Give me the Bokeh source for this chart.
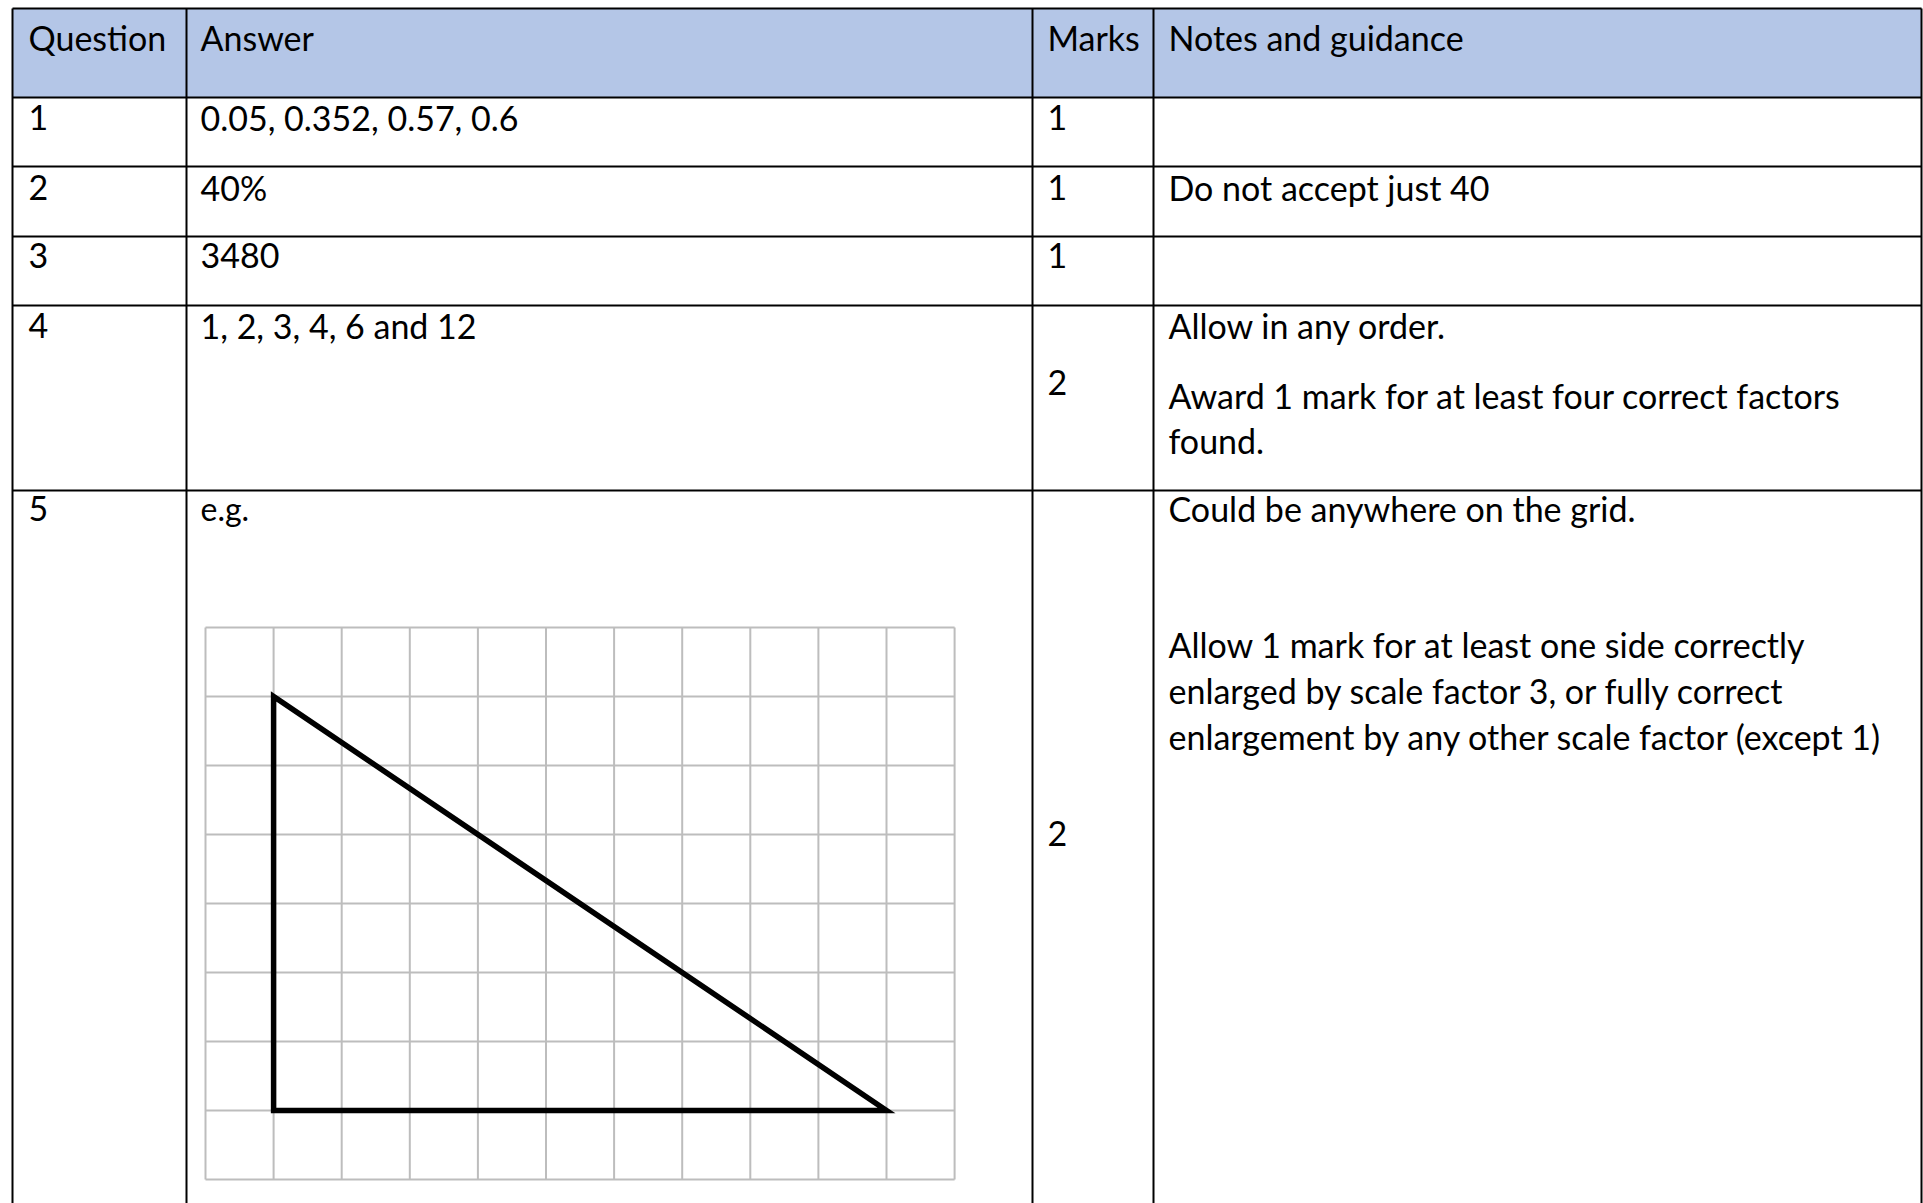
from bokeh.plotting import figure
from bokeh.models import Range1d
from bokeh.core.properties import value
from bokeh.embed import file_html
from bokeh.resources import INLINE

# ---------------- data ----------------
headers = ["Question", "Answer", "Marks", "Notes and guidance"]
questions = ["1", "2", "3", "4", "5"]
answers = ["0.05, 0.352, 0.57, 0.6", "40%", "3480", "1, 2, 3, 4, 6 and 12", "e.g."]
marks = ["1", "1", "1", "2", "2"]
notes = [
    [],
    ["Do not accept just 40"],
    [],
    ["Allow in any order.",
     "Award 1 mark for at least four correct factors",
     "found."],
    ["Could be anywhere on the grid.",
     "Allow 1 mark for at least one side correctly",
     "enlarged by scale factor 3, or fully correct",
     "enlargement by any other scale factor (except 1)"],
]
grid_cols = 11
grid_rows = 8
tri_col = [1, 1, 10]   # triangle vertices, in grid squares from the left
tri_row = [1, 7, 7]    # triangle vertices, in grid squares from the top

# ---------------- layout (page pixels, y downward) ----------------
W, H = 1923, 1203
col_edges = [12, 186, 1032, 1153, 1921]
row_edges = [8, 97, 166, 236, 305, 490]
text_x = [28, 200, 1047, 1168]
SHIFT = -12
header_base = 49 + SHIFT
row_base = [b + SHIFT for b in [128.5, 198.5, 267, 337, 520]]
marks_base = [b + SHIFT for b in [128.5, 198.5, 267, 394, 845]]
note_dy = [[], [0], [], [0, 70, 115], [0, 136, 181.7, 228]]
grid_x0, grid_y0, cell_w, cell_h = 205, 627, 68.1, 69.0

FONT = value("Lato")
FS = "34px"
HEADER_FILL = "#B4C6E7"

p = figure(width=W, height=H, output_backend="svg", toolbar_location=None,
           x_axis_type=None, y_axis_type=None,
           x_range=Range1d(0, W), y_range=Range1d(H, 0),
           min_border=0, min_border_left=0, min_border_right=0,
           min_border_top=0, min_border_bottom=0)
p.outline_line_color = None
p.grid.visible = False
p.background_fill_color = "white"
p.border_fill_color = "white"

# header band
p.quad(left=[col_edges[0]], right=[col_edges[-1]], top=[row_edges[0]], bottom=[row_edges[1]],
       fill_color=HEADER_FILL, line_color=None)

# ---- grid in question 5 ----
gx = [grid_x0 + i * cell_w for i in range(grid_cols + 1)]
gy = [grid_y0 + j * cell_h for j in range(grid_rows + 1)]
p.segment(x0=gx, y0=[gy[0]] * len(gx), x1=gx, y1=[gy[-1]] * len(gx),
          line_color="#BDBDBD", line_width=2)
p.segment(x0=[gx[0]] * len(gy), y0=gy, x1=[gx[-1]] * len(gy), y1=gy,
          line_color="#BDBDBD", line_width=2)
tx = [grid_x0 + c * cell_w for c in tri_col]
ty = [grid_y0 + r * cell_h for r in tri_row]
p.patch(x=tx, y=ty, fill_color=None, line_color="black", line_width=5.5, line_join="miter")

# ---- table rules ----
p.segment(x0=[col_edges[0]] * len(row_edges), y0=row_edges,
          x1=[col_edges[-1]] * len(row_edges), y1=row_edges,
          line_color="black", line_width=2)
p.segment(x0=col_edges, y0=[row_edges[0]] * len(col_edges),
          x1=col_edges, y1=[H + 5] * len(col_edges),
          line_color="black", line_width=2)

# ---- texts ----
def put(xs, ys, texts, size=FS):
    p.text(x=xs, y=ys, text=texts, text_font=FONT, text_font_size=size,
           text_color="black", text_baseline="alphabetic", text_align="left")

put(text_x, [header_base] * 4, headers)
put([text_x[0]] * len(questions), row_base, questions)
put([text_x[1]] * 4, row_base[:4], answers[:4])
put([text_x[1]], [row_base[4]], answers[4:], size="32px")
put([text_x[2]] * len(marks), marks_base, marks)
nx, ny, nt = [], [], []
for i, lines in enumerate(notes):
    for dy, t in zip(note_dy[i], lines):
        nx.append(text_x[3]); ny.append(row_base[i] + dy); nt.append(t)
put(nx, ny, nt)

open("out.html", "w").write(file_html(p, INLINE))
